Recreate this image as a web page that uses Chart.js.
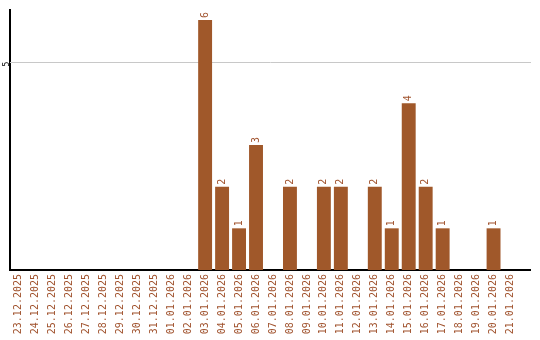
<!DOCTYPE html>
<html>
<head>
<meta charset="utf-8">
<script src="https://cdn.jsdelivr.net/npm/chart.js@4/dist/chart.umd.min.js"></script>
<style>
  html, body { margin: 0; padding: 0; background: #fff; }
  #wrap { width: 540px; height: 340px; }
</style>
</head>
<body>
<div id="wrap"><canvas id="myChart" width="540" height="340"></canvas></div>
<script>
const days = [
  "23.12.2025", "24.12.2025", "25.12.2025", "26.12.2025", "27.12.2025",
  "28.12.2025", "29.12.2025", "30.12.2025", "31.12.2025", "01.01.2026",
  "02.01.2026", "03.01.2026", "04.01.2026", "05.01.2026", "06.01.2026",
  "07.01.2026", "08.01.2026", "09.01.2026", "10.01.2026", "11.01.2026",
  "12.01.2026", "13.01.2026", "14.01.2026", "15.01.2026", "16.01.2026",
  "17.01.2026", "18.01.2026", "19.01.2026", "20.01.2026", "21.01.2026"
];
const counts = [
  0, 0, 0, 0, 0, 0, 0, 0, 0, 0,
  0, 6, 2, 1, 3, 0, 2, 0, 2, 2,
  0, 2, 1, 4, 2, 1, 0, 0, 1, 0
];
const yTicks = [5];
const yMax = 6.24;

const brown = "#A0582A";
const labelColor = "#A0522D";
const mono = "'DejaVu Sans Mono', 'Liberation Mono', monospace";

// value labels above the bars, written bottom to top
const barValues = {
  id: "barValues",
  afterDatasetsDraw(chart) {
    const ctx = chart.ctx;
    const meta = chart.getDatasetMeta(0);
    ctx.save();
    ctx.font = "10px " + mono;
    ctx.fillStyle = labelColor;
    ctx.textAlign = "left";
    ctx.textBaseline = "middle";
    meta.data.forEach(function (bar, i) {
      const v = counts[i];
      if (!v) return;
      ctx.save();
      ctx.translate(bar.x, bar.y - 2);
      ctx.rotate(-Math.PI / 2);
      ctx.fillText(String(v), 0, 0);
      ctx.restore();
    });
    ctx.restore();
  }
};

// grid lines and bottom axis run a bit past the last bar slot
const extraLines = {
  id: "extraLines",
  beforeDatasetsDraw(chart) {
    const a = chart.chartArea;
    const ctx = chart.ctx;
    const yScale = chart.scales.y;
    ctx.save();
    ctx.strokeStyle = "#c8c8c8";
    ctx.lineWidth = 1;
    yTicks.forEach(function (v) {
      const y = Math.round(yScale.getPixelForValue(v)) + 0.5;
      ctx.beginPath();
      ctx.moveTo(a.left, y);
      ctx.lineTo(a.right + 12, y);
      ctx.stroke();
    });
    ctx.restore();
  },
  afterDraw(chart) {
    const a = chart.chartArea;
    const ctx = chart.ctx;
    ctx.save();
    ctx.strokeStyle = "#000";
    ctx.lineWidth = 2;
    ctx.beginPath();
    ctx.moveTo(a.right - 1, a.bottom);
    ctx.lineTo(a.right + 12, a.bottom);
    ctx.stroke();
    ctx.restore();
  }
};

const ctx = document.getElementById("myChart").getContext("2d");
const myChart = new Chart(ctx, {
  type: "bar",
  data: {
    labels: days,
    datasets: [
      {
        data: counts,
        backgroundColor: brown,
        borderWidth: 0,
        barPercentage: 0.82,
        categoryPercentage: 1.0,
      },
    ],
  },
  options: {
    responsive: false,
    animation: false,
    devicePixelRatio: 1,
    layout: { padding: { top: 10, right: 21, left: 0, bottom: 0 } },
    plugins: {
      legend: { display: false },
      tooltip: { enabled: false },
    },
    scales: {
      x: {
        grid: { display: false, drawTicks: false },
        border: { color: "#000", width: 2 },
        ticks: {
          autoSkip: false,
          minRotation: 90,
          maxRotation: 90,
          padding: 4,
          color: labelColor,
          font: { family: mono, size: 10 },
        },
        afterFit(scale) { scale.height = 70; },
      },
      y: {
        min: 0,
        max: yMax,
        afterBuildTicks(scale) {
          scale.ticks = yTicks.map(function (v) { return { value: v }; });
        },
        grid: { display: false, drawTicks: false },
        border: { color: "#000", width: 2 },
        ticks: {
          minRotation: 90,
          maxRotation: 90,
          padding: 3,
          color: "#000",
          font: { family: mono, size: 8 },
        },
        afterFit(scale) { scale.width = 10; },
      },
    },
  },
  plugins: [barValues, extraLines],
});
</script>
</body>
</html>
